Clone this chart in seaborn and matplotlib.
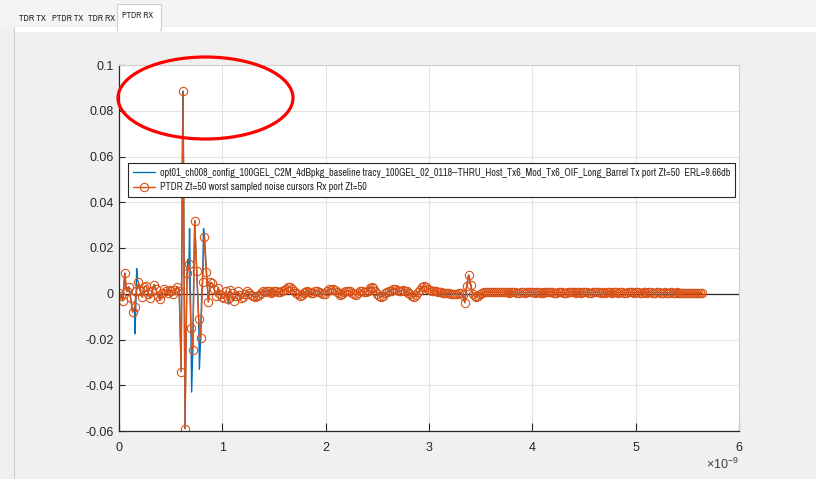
import matplotlib
matplotlib.use("Agg")
import numpy as np
import pandas as pd
import seaborn as sns
import matplotlib.pyplot as plt
from matplotlib import font_manager as fm
from matplotlib.patches import Ellipse, Rectangle

# ---------------- data ----------------
UI_NS = 0.0188  # sample spacing of the PTDR cursors (ns)

ptdr_rx = [
    0.0005, -0.0010, -0.0030, 0.0090, 0.0010, 0.0030, -0.0020, -0.0080, -0.0060, 0.0010,
    0.0050, 0.0010, -0.0015, 0.0030, 0.0035, 0.0000, -0.0020, 0.0010, 0.0040, 0.0020,
    -0.0010, -0.0025, 0.0005, 0.0020, 0.0010, 0.0005, 0.0015, 0.0010, 0.0000, 0.0015,
    0.0030, 0.0010, -0.0340, 0.0885, -0.0590, 0.0090, 0.0130, -0.0150, -0.0245, 0.0320,
    0.0100, -0.0110, -0.0195, 0.0050, 0.0250, 0.0095, -0.0035, 0.0050, 0.0045, 0.0020,
    -0.0010, 0.0025, 0.0000, -0.0015, -0.0020, 0.0010, -0.0025, 0.0015, 0.0005, -0.0030,
    -0.0010, 0.0010, -0.0005, -0.0020, -0.0015, 0.0000, 0.0010, 0.0005, -0.0005, -0.0010,
    -0.0015, -0.0012, -0.0005, 0.0005, 0.0010, 0.0008, 0.0012, 0.0010, 0.0005, 0.0008,
    0.0012, 0.0010, 0.0006, 0.0009, 0.0012, 0.0015, 0.0020, 0.0028, 0.0030, 0.0022,
    0.0012, 0.0005, -0.0002, -0.0008, -0.0005, 0.0002, 0.0008, 0.0010, 0.0006, 0.0003,
    0.0005, 0.0010, 0.0012, 0.0008, 0.0002, -0.0003, 0.0000, 0.0010, 0.0020, 0.0018,
    0.0022, 0.0015, 0.0008, 0.0002, -0.0004, -0.0002, 0.0006, 0.0012, 0.0014, 0.0010,
    0.0005, 0.0000, -0.0004, 0.0002, 0.0010, 0.0012, 0.0008, 0.0006, 0.0014, 0.0024,
    0.0030, 0.0026, 0.0012, 0.0000, -0.0010, -0.0015, -0.0008, 0.0002, 0.0006, 0.0010,
    0.0014, 0.0020, 0.0022, 0.0016, 0.0010, 0.0012, 0.0016, 0.0014, 0.0010, 0.0004,
    -0.0002, -0.0010, -0.0014, -0.0006, 0.0006, 0.0018, 0.0028, 0.0034, 0.0030, 0.0022,
    0.0016, 0.0014, 0.0012, 0.0010, 0.0009, 0.0008, 0.0006, 0.0005, 0.0004, 0.0003,
    0.0002, 0.0001, 0.0000, -0.0001, 0.0000, 0.0002, 0.0003, -0.0005, -0.0039, 0.0035,
    0.0082, 0.0038, 0.0000, -0.0010, -0.0015, -0.0008, 0.0000, 0.0004, 0.0006, 0.0007,
    0.0008, 0.0007, 0.0006, 0.0007, 0.0008, 0.0008, 0.0007, 0.0006, 0.0006, 0.0007,
    0.0006, 0.0005, 0.0006, 0.0007, 0.0006, 0.0005, 0.0005, 0.0006, 0.0006, 0.0005,
    0.0006, 0.0006, 0.0007, 0.0006, 0.0005, 0.0006, 0.0006, 0.0005, 0.0005, 0.0006,
    0.0006, 0.0007, 0.0006, 0.0006, 0.0005, 0.0005, 0.0006, 0.0006, 0.0006, 0.0005,
    0.0005, 0.0006, 0.0006, 0.0007, 0.0006, 0.0005, 0.0006, 0.0006, 0.0005, 0.0006,
    0.0006, 0.0006, 0.0005, 0.0005, 0.0006, 0.0006, 0.0007, 0.0006, 0.0005, 0.0006,
    0.0005, 0.0006, 0.0006, 0.0006, 0.0005, 0.0006, 0.0006, 0.0005, 0.0006, 0.0006,
    0.0005, 0.0005, 0.0006, 0.0006, 0.0006, 0.0005, 0.0006, 0.0006, 0.0005, 0.0005,
    0.0006, 0.0006, 0.0005, 0.0006, 0.0006, 0.0005, 0.0005, 0.0006, 0.0006, 0.0005,
    0.0005, 0.0006, 0.0005, 0.0005, 0.0006, 0.0005, 0.0005, 0.0006, 0.0005, 0.0005,
    0.0005, 0.0005, 0.0004, 0.0005, 0.0005, 0.0004, 0.0005, 0.0004, 0.0004, 0.0004,
    0.0004,
]

# continuous TX waveform (early part, where it differs from the cursors)
tx_early_t_ns = [
    0.000, 0.019, 0.038, 0.050, 0.056, 0.066, 0.075, 0.094, 0.113, 0.132,
    0.150, 0.155, 0.163, 0.171, 0.180, 0.188, 0.207, 0.226, 0.244, 0.263,
    0.282, 0.301, 0.320, 0.338, 0.357, 0.376, 0.395, 0.414, 0.432, 0.451,
    0.470, 0.489, 0.508, 0.526, 0.545, 0.564, 0.583, 0.595, 0.602, 0.612,
    0.620, 0.630, 0.639, 0.648, 0.658, 0.667, 0.677, 0.683, 0.690, 0.696,
    0.703, 0.714, 0.724, 0.733, 0.742, 0.752, 0.771, 0.778, 0.790, 0.800,
    0.808, 0.818, 0.827, 0.846, 0.865, 0.884, 0.902, 0.921, 0.940, 0.959,
    0.978, 0.996, 1.015, 1.034, 1.053, 1.062, 1.072,
]
tx_early_v = [
    0.0005, -0.0010, -0.0030, 0.0060, 0.0090, 0.0040, 0.0010, 0.0030, -0.0020, -0.0080,
    -0.0060, -0.0175, -0.0050, 0.0110, 0.0060, 0.0050, 0.0010, -0.0015, 0.0030, 0.0035,
    0.0000, -0.0020, 0.0010, 0.0040, 0.0020, -0.0010, -0.0025, 0.0005, 0.0020, 0.0010,
    0.0005, 0.0015, 0.0010, 0.0000, 0.0015, 0.0030, 0.0010, -0.0200, -0.0340, 0.0600,
    0.0885, 0.0100, -0.0590, -0.0200, 0.0090, 0.0150, 0.0130, 0.0285, 0.0050, -0.0150,
    -0.0430, -0.0245, 0.0100, 0.0320, 0.0200, 0.0100, -0.0110, -0.0330, -0.0195, 0.0000,
    0.0050, 0.0285, 0.0250, 0.0095, -0.0035, 0.0050, 0.0045, 0.0020, -0.0010, 0.0025,
    0.0000, -0.0015, -0.0020, 0.0010, -0.0025, -0.0045, 0.0015,
]
TX_TAIL_START = 58  # from here on the TX waveform follows the sampled cursors

x_ticks = [0, 1, 2, 3, 4, 5, 6]
y_ticks = [-0.06, -0.04, -0.02, 0, 0.02, 0.04, 0.06, 0.08, 0.1]
y_tick_labels = ["-0.06", "-0.04", "-0.02", "0", "0.02", "0.04", "0.06", "0.08", "0.1"]
tabs = ["TDR TX", "PTDR TX", "TDR RX", "PTDR RX"]

label_tx = ("opt01_ch008_config_100GEL_C2M_4dBpkg_baseline tracy_100GEL_02_0118--THRU_Host_Tx6_"
            "Mod_Tx6_OIF_Long_Barrel Tx port Zt=50  ERL=9.66db")
label_rx = "PTDR Zt=50 worst sampled noise cursors Rx port Zt=50"

# ---------------- build tables ----------------
rx_t_ns = np.arange(len(ptdr_rx)) * UI_NS
df_rx = pd.DataFrame({"t": rx_t_ns * 1e-9, "v": ptdr_rx})
tx_t = list(tx_early_t_ns) + list(rx_t_ns[TX_TAIL_START:])
tx_v = list(tx_early_v) + list(ptdr_rx[TX_TAIL_START:])
df_tx = pd.DataFrame({"t": np.array(tx_t) * 1e-9, "v": tx_v})

# ---------------- font: prefer a narrow sans if one is installed ----------------
sns.set_theme(style="white")
fam, stretch = "Liberation Sans", "normal"
for f in fm.fontManager.ttflist:
    n = f.name.lower()
    if f.style == "normal" and f.weight in (400, "normal", "regular"):
        if ("narrow" in n or "condensed" in n) and "mono" not in n and "serif" not in n:
            fam, stretch = f.name, f.stretch
            break
else:
    for f in fm.fontManager.ttflist:
        if f.stretch in ("condensed", "semi-condensed") and "mono" not in f.name.lower() \
                and "serif" not in f.name.lower() and f.style == "normal":
            fam, stretch = f.name, f.stretch
            break
plt.rcParams["font.family"] = [fam, "DejaVu Sans"]
plt.rcParams["font.stretch"] = stretch
plt.rcParams["mathtext.fontset"] = "custom"
plt.rcParams["mathtext.rm"] = "Liberation Sans"
plt.rcParams["mathtext.it"] = "Liberation Sans"
TICK_FONT = ["Liberation Sans", "DejaVu Sans"]

W, H = 816, 479
fig = plt.figure(figsize=(W / 100, H / 100), dpi=100, facecolor="#f0f0f0")
renderer = fig.canvas.get_renderer()

# tab strip / panel
fig.add_artist(Rectangle((0, 1 - 27 / H), 1, 27 / H, transform=fig.transFigure,
                         facecolor="#f4f4f4", edgecolor="none", zorder=0))
fig.add_artist(Rectangle((14 / W, -0.01), 1, (H - 27) / H + 0.01, transform=fig.transFigure,
                         facecolor="#f0f0f0", edgecolor="#cfcfcf", lw=0.8, zorder=0))
fig.add_artist(Rectangle((15 / W, 1 - 32 / H), 1, 4.5 / H, transform=fig.transFigure,
                         facecolor="white", edgecolor="none", zorder=0.5))
fig.add_artist(Rectangle((117 / W, 1 - 30 / H), 44 / W, 26 / H, transform=fig.transFigure,
                         facecolor="white", edgecolor="#cfcfcf", lw=0.8, zorder=0.6))
fig.add_artist(Rectangle((118 / W, 1 - 32 / H), 42 / W, 5 / H, transform=fig.transFigure,
                         facecolor="white", edgecolor="none", zorder=0.7))
tab_x = [19, 52, 88, 122]
tab_w = [27, 31, 27, 31]
tab_y = [18.5, 18.5, 18.5, 16]
for name, tx_, tw_, ty_ in zip(tabs, tab_x, tab_w, tab_y):
    t = fig.text(tx_ / W, 1 - ty_ / H, name, fontsize=7, color="#262626", ha="left", va="center")
    w = t.get_window_extent(renderer).width
    t.set_fontsize(min(8, 7 * tw_ / w))

ax = fig.add_axes([119 / W, 48 / H, 620 / W, 366 / H])
ax.set_facecolor("white")

ax.axhline(0, color="#262626", lw=0.9, zorder=1.5)
sns.lineplot(data=df_tx, x="t", y="v", ax=ax, color="#0072BD", lw=1.0,
             estimator=None, sort=False, label=label_tx, zorder=2)
sns.lineplot(data=df_rx, x="t", y="v", ax=ax, color="#D95319", lw=1.0,
             estimator=None, sort=False, label=label_rx, marker="o", markersize=6,
             markerfacecolor="none", markeredgecolor="#D95319", markeredgewidth=0.8,
             zorder=2.5)

ax.set_xlim(0, 6e-9)
ax.set_ylim(-0.06, 0.1)
ax.set_xticks([v * 1e-9 for v in x_ticks])
ax.set_xticklabels([str(v) for v in x_ticks], fontfamily=TICK_FONT, fontsize=9)
ax.set_yticks(y_ticks)
ax.set_yticklabels(y_tick_labels, fontfamily=TICK_FONT, fontsize=9)
ax.set_xlabel("")
ax.set_ylabel("")
ax.grid(True, color="#e3e3e3", lw=0.8)
ax.set_axisbelow(True)
for s in ["left", "bottom"]:
    ax.spines[s].set_color("#262626")
    ax.spines[s].set_linewidth(0.9)
for s in ["top", "right"]:
    ax.spines[s].set_color("#d0d0d0")
    ax.spines[s].set_linewidth(0.8)
ax.tick_params(axis="x", direction="in", length=6, width=0.8, color="#262626",
               pad=8, labelcolor="#262626", bottom=True)
ax.tick_params(axis="y", direction="in", length=4, width=0.8, color="#262626",
               pad=4, labelcolor="#262626", left=True)
ax.text(1.0, -0.09, r"$\times10^{-9}$", transform=ax.transAxes, ha="right", va="center",
        fontsize=9, color="#404040", fontfamily=TICK_FONT)


def make_legend(fs):
    lg = ax.legend(loc="upper left", bbox_to_anchor=(0.0145, 0.732), borderaxespad=0,
                   frameon=True, fancybox=False, framealpha=1, edgecolor="#262626",
                   fontsize=fs, handlelength=2.2, handletextpad=0.5, labelspacing=0.45,
                   borderpad=0.45)
    lg.get_frame().set_linewidth(0.8)
    for tt in lg.get_texts():
        tt.set_color("#262626")
    return lg


leg = make_legend(7)
fig.canvas.draw()
wlong = leg.get_texts()[0].get_window_extent(renderer).width
fs = min(7.5, 7 * 570 / wlong)
leg = make_legend(fs)

# red highlight ellipse (figure coordinates, not clipped)
fig.add_artist(Ellipse((205.5 / W, 1 - 98 / H), 175 / W, 82 / H, transform=fig.transFigure,
                       facecolor="none", edgecolor="#ff0000", lw=2.3, zorder=10))

fig.savefig("out.png", dpi=100, facecolor=fig.get_facecolor())
